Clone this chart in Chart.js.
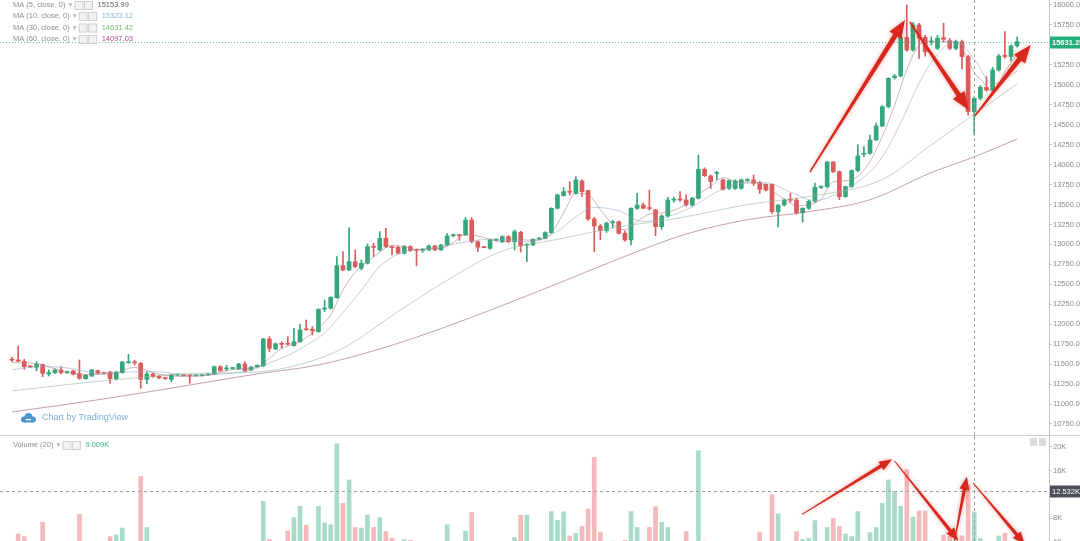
<!DOCTYPE html>
<html>
<head>
<meta charset="utf-8">
<script src="https://cdn.jsdelivr.net/npm/chart.js@4.4.0/dist/chart.umd.min.js"></script>
<style>
  html, body { margin: 0; padding: 0; background: #fff; overflow: hidden; }
  #wrap { position: relative; width: 1080px; height: 541px; }
  #price { position: absolute; left: 0; top: 0; }
  #vol { position: absolute; left: 0; top: 436px; }
</style>
</head>
<body>
<div id="wrap">
  <canvas id="price" width="1080" height="436"></canvas>
  <canvas id="vol" width="1080" height="105"></canvas>
</div>
<script>
// candles, one per session
const opens = [
  11555, 11552, 11535, 11470, 11460, 11493, 11376, 11393, 11426, 11390,
  11414, 11380, 11318, 11351, 11418, 11393, 11401, 11318, 11393, 11518,
  11520, 11510, 11309, 11376, 11351, 11330, 11309, 11362, 11358, 11358,
  11354, 11356, 11365, 11376, 11468, 11440, 11445, 11439, 11502, 11426,
  11468, 11477, 11815, 11690, 11756, 11752, 11731, 11781, 11940, 11936,
  11907, 12190, 12199, 12333, 12734, 12680, 12784, 12701, 12764, 12970,
  12931, 13077, 12970, 12964, 12889, 12972, 12930, 12925, 12931, 12981,
  12931, 12993, 13110, 13118, 13118, 13306, 13035, 12964, 12951, 13050,
  13035, 13098, 13035, 13152, 12990, 12993, 13068, 13077, 13148, 13453,
  13612, 13665, 13640, 13795, 13674, 13319, 13231, 13173, 13270, 13285,
  13140, 13056, 13453, 13494, 13460, 13432, 13223, 13357, 13555, 13560,
  13557, 13494, 13578, 13941, 13857, 13890, 13808, 13703, 13700, 13703,
  13800, 13808, 13774, 13753, 13753, 13411, 13494, 13560, 13557, 13398,
  13452, 13540, 13716, 13724, 14033, 13912, 13599, 13724, 13925, 14130,
  14142, 14309, 14484, 14726, 15090, 15111, 15595, 15436, 15750, 15595,
  15535, 15457, 15590, 15553, 15457, 15541, 15353, 14664, 14831, 14969,
  14935, 15186, 15370, 15353, 15487
];
const highs = [
  11585, 11727, 11560, 11480, 11531, 11500, 11426, 11440, 11468, 11415,
  11426, 11552, 11370, 11435, 11425, 11400, 11410, 11410, 11535, 11623,
  11550, 11520, 11405, 11385, 11355, 11335, 11375, 11375, 11365, 11365,
  11362, 11368, 11380, 11475, 11480, 11485, 11460, 11510, 11531, 11470,
  11490, 11825, 11844, 11765, 11781, 11844, 11948, 12003, 12053, 11969,
  12195, 12304, 12345, 12847, 12909, 13210, 12931, 12805, 13006, 13014,
  13160, 13202, 12980, 12975, 12985, 12985, 12945, 12950, 12995, 12990,
  13000, 13135, 13130, 13125, 13340, 13335, 13045, 12975, 13065, 13070,
  13110, 13110, 13180, 13165, 13010, 13070, 13085, 13160, 13460, 13630,
  13710, 13787, 13850, 13810, 13680, 13340, 13250, 13280, 13300, 13295,
  13170, 13460, 13640, 13520, 13680, 13440, 13370, 13590, 13590, 13661,
  13620, 13590, 14121, 13960, 13870, 13915, 13820, 13810, 13810, 13820,
  13825, 13870, 13790, 13760, 13760, 13500, 13570, 13640, 13580, 13460,
  13555, 13770, 13735, 14040, 14040, 13920, 13730, 13935, 14250, 14225,
  14370, 14520, 14740, 15090, 15130, 15600, 16000, 15780, 15770, 15620,
  15600, 15620, 15771, 15580, 15560, 15560, 15370, 14850, 14990, 15102,
  15220, 15380, 15666, 15500, 15600
];
const lows = [
  11531, 11530, 11435, 11455, 11418, 11343, 11351, 11385, 11376, 11385,
  11365, 11310, 11310, 11345, 11380, 11380, 11259, 11301, 11385, 11510,
  11490, 11197, 11251, 11335, 11318, 11305, 11280, 11355, 11350, 11259,
  11348, 11350, 11360, 11370, 11410, 11418, 11438, 11435, 11405, 11420,
  11460, 11470, 11656, 11680, 11698, 11740, 11725, 11775, 11925, 11865,
  11900, 12157, 12190, 12325, 12670, 12670, 12710, 12680, 12755, 12847,
  12920, 12960, 12868, 12880, 12880, 12910, 12734, 12900, 12920, 12925,
  12925, 12985, 13095, 13050, 13110, 13020, 12910, 12955, 12940, 13045,
  13025, 13020, 12930, 12905, 12784, 12985, 13060, 13070, 13140, 13445,
  13605, 13620, 13630, 13600, 13300, 12910, 13060, 13150, 13210, 13130,
  13040, 12993, 13440, 13445, 13430, 13110, 13190, 13340, 13530, 13540,
  13480, 13480, 13570, 13850, 13700, 13810, 13680, 13690, 13690, 13690,
  13790, 13740, 13640, 13670, 13390, 13215, 13480, 13530, 13380, 13280,
  13440, 13530, 13700, 13715, 13900, 13560, 13590, 13715, 13910, 14100,
  14130, 14300, 14475, 14710, 15070, 15100, 15420, 15420, 15332, 15360,
  15500, 15440, 15540, 15440, 15440, 15200, 14620, 14371, 14810, 14920,
  14920, 15170, 15330, 15300, 15470
];
const closes = [
  11550, 11539, 11468, 11466, 11502, 11385, 11393, 11426, 11393, 11405,
  11372, 11322, 11360, 11426, 11385, 11385, 11318, 11401, 11527, 11531,
  11515, 11309, 11376, 11343, 11326, 11320, 11368, 11366, 11354, 11352,
  11356, 11362, 11375, 11468, 11418, 11450, 11450, 11502, 11414, 11464,
  11485, 11815, 11698, 11756, 11748, 11748, 11781, 11928, 11930, 11919,
  12187, 12200, 12337, 12734, 12680, 12784, 12722, 12764, 12972, 12962,
  13077, 12972, 12960, 12889, 12972, 12922, 12925, 12935, 12981, 12931,
  12993, 13106, 13115, 13110, 13306, 13035, 12964, 12960, 13056, 13056,
  13098, 13035, 13160, 12981, 12993, 13064, 13077, 13148, 13453, 13620,
  13661, 13655, 13808, 13661, 13319, 13231, 13173, 13265, 13285, 13140,
  13056, 13453, 13494, 13453, 13450, 13223, 13357, 13557, 13560, 13557,
  13494, 13578, 13941, 13862, 13787, 13900, 13690, 13799, 13795, 13808,
  13805, 13766, 13690, 13682, 13411, 13494, 13557, 13555, 13398, 13452,
  13540, 13716, 13720, 14033, 13912, 13599, 13724, 13925, 14108, 14135,
  14309, 14484, 14726, 15081, 15110, 15595, 15436, 15750, 15583, 15416,
  15545, 15583, 15570, 15457, 15541, 15353, 14664, 14831, 14969, 14935,
  15186, 15361, 15355, 15487, 15541
];
const volumes = [
  3000, 5300, 4850, 3000, 3900, 7280, 3200, 3100, 3300, 3900,
  3200, 8610, 3000, 3600, 3200, 3000, 4850, 5130, 6310, 3900,
  3400, 15000, 6400, 3900, 3000, 2800, 3300, 2600, 2500, 3200,
  2400, 2500, 2700, 3500, 3100, 2800, 2600, 3300, 3600, 3200,
  2900, 10830, 4370, 3800, 3600, 5800, 8040, 9970, 6760, 3800,
  9970, 7160, 6870, 20540, 10490, 14430, 6400, 6300, 8500, 6400,
  8040, 5710, 4550, 3800, 4370, 4260, 3900, 3000, 3200, 2900,
  3100, 6870, 3500, 3500, 5800, 8920, 3800, 2800, 3300, 2700,
  3400, 3200, 4700, 8450, 8500, 3800, 3600, 3800, 9090, 7640,
  9050, 4960, 5420, 6590, 9490, 18230, 5590, 3600, 4100, 3900,
  4250, 9090, 6400, 3900, 6400, 9900, 7280, 6400, 3700, 3500,
  5710, 3900, 19370, 4100, 3400, 3000, 3500, 3100, 2900, 3200,
  2800, 3300, 5540, 3800, 11940, 8730, 3600, 3800, 5710, 4370,
  4550, 7570, 3800, 6400, 7920, 6590, 5300, 4850, 9090, 4100,
  5540, 6400, 10490, 14440, 12520, 9970, 16180, 8160, 9200, 9200,
  4100, 4000, 5130, 4900, 4800, 5000, 13600, 9009, 4550, 3800,
  3900, 4960, 5420, 3800, 3700
];

// moving averages, [candle index, value]
const ma5 = [
  [0, 11520], [4, 11505], [8, 11420], [12, 11370], [16, 11375], [20, 11458], [24, 11374],
  [28, 11347], [32, 11360], [36, 11432], [40, 11463], [42, 11575], [44, 11700], [46, 11747],
  [48, 11830], [50, 11951], [52, 12117], [54, 12428], [56, 12651], [58, 12784], [60, 12901],
  [62, 12990], [64, 12974], [66, 12934], [68, 12947], [70, 12953], [72, 13025], [74, 13126],
  [76, 13106], [78, 13064], [80, 13027], [82, 13081], [84, 13053], [86, 13055], [88, 13147],
  [90, 13392], [92, 13641], [94, 13623], [96, 13438], [98, 13255], [100, 13184], [102, 13286],
  [104, 13381], [106, 13395], [108, 13429], [110, 13505], [112, 13626], [114, 13732], [116, 13836],
  [118, 13794], [120, 13779], [122, 13773], [124, 13671], [126, 13567], [128, 13483], [130, 13500],
  [132, 13565], [134, 13784], [136, 13798], [138, 13854], [140, 14040], [142, 14352], [144, 14742],
  [146, 15190], [148, 15495], [150, 15546], [152, 15539], [154, 15539], [156, 15317], [157, 15154],
  [158, 15072], [160, 14917], [162, 15161], [164, 15386]
];
const ma10 = [
  [0, 11430], [5, 11470], [9, 11453], [14, 11387], [19, 11403], [24, 11403], [29, 11363],
  [34, 11374], [39, 11426], [42, 11516], [45, 11608], [48, 11737], [51, 11891], [54, 12146],
  [57, 12427], [60, 12724], [64, 12908], [69, 12956], [74, 13032], [79, 13070], [84, 13034],
  [89, 13163], [92, 13347], [95, 13464], [99, 13421], [103, 13287], [107, 13347], [111, 13472],
  [115, 13659], [119, 13765], [123, 13772], [127, 13656], [131, 13550], [135, 13648], [139, 13841],
  [142, 14096], [145, 14520], [148, 15021], [151, 15383], [154, 15548], [157, 15323], [160, 15009],
  [164, 15168]
];
const ma30 = [
  [0, 11164], [10, 11252], [20, 11327], [30, 11385], [40, 11401], [47, 11497], [54, 11699],
  [63, 12159], [71, 12551], [80, 12918], [89, 13063], [99, 13218], [109, 13333], [120, 13499],
  [131, 13612], [142, 13813], [150, 14248], [157, 14631], [164, 15012]
];
const ma60 = [
  [0, 10901], [15, 11064], [30, 11251], [40, 11377], [50, 11490], [60, 11690], [70, 11945],
  [80, 12235], [90, 12540], [100, 12850], [110, 13130], [120, 13310], [130, 13410], [140, 13560],
  [150, 13900], [157, 14097], [164, 14321]
];

const priceTicks = [10750, 11000, 11250, 11500, 11750, 12000, 12250, 12500, 12750, 13000, 13250,
  13500, 13750, 14000, 14250, 14500, 14750, 15000, 15250, 15500, 15750, 16000];
const volTicks = [4000, 8000, 12000, 16000, 20000];

const maLegend = [
  ['MA (5, close, 0)', '15153.99', '#5f5f5f'],
  ['MA (10, close, 0)', '15323.12', '#86b3d6'],
  ['MA (30, close, 0)', '14631.42', '#74b874'],
  ['MA (60, close, 0)', '14097.03', '#b2508e']
];
const lastPriceText = '15631.25';
const cursorIndex = 157;
const cursorVolume = 12532;
const cursorVolumeText = '12.532K';
const volumeLegendValue = '9.009K';

// hand drawn arrows: [index from, value from, index to, value to]
const priceArrows = [
  [130.2, 13908, 145.7, 15812],
  [146.5, 15787, 156.1, 14685],
  [157.1, 14610, 166.2, 15499]
];
const volArrows = [
  [128.9, 8610, 143.6, 17920],
  [144.0, 17640, 154.4, 4140],
  [153.8, 4260, 155.8, 14980],
  [156.8, 13960, 165.3, 3500]
];

const FONT = '"Liberation Sans", Arial, "DejaVu Sans", sans-serif';
const UP = '#34a87b', DOWN = '#dd5b5b';
const VOL_UP = '#a9dcc8', VOL_DOWN = '#f4b9ba';
const X_MIN = -1.96, X_MAX = 169.2;
const isUp = i => closes[i] >= opens[i];
const pts = arr => arr.map(([i, v]) => ({ x: i, y: v }));

function drawArrow(ctx, x1, y1, x2, y2, w0, w1, headLen, headW) {
  const dx = x2 - x1, dy = y2 - y1, len = Math.hypot(dx, dy);
  const ux = dx / len, uy = dy / len, nx = -uy, ny = ux;
  const bx = x2 - ux * headLen, by = y2 - uy * headLen;
  ctx.save();
  ctx.shadowColor = 'rgba(210,50,40,0.45)';
  ctx.shadowBlur = 4;
  ctx.fillStyle = '#d8271d';
  ctx.beginPath();
  ctx.moveTo(x1 + nx * w0 / 2, y1 + ny * w0 / 2);
  ctx.lineTo(bx + nx * w1 / 2, by + ny * w1 / 2);
  ctx.lineTo(bx + nx * headW / 2, by + ny * headW / 2);
  ctx.lineTo(x2, y2);
  ctx.lineTo(bx - nx * headW / 2, by - ny * headW / 2);
  ctx.lineTo(bx - nx * w1 / 2, by - ny * w1 / 2);
  ctx.lineTo(x1 - nx * w0 / 2, y1 - ny * w0 / 2);
  ctx.closePath();
  ctx.fill();
  ctx.restore();
}

function drawIcons(ctx, x, y) {
  ctx.save();
  ctx.strokeStyle = '#cfcfcf';
  ctx.fillStyle = '#f3f3f3';
  for (let k = 0; k < 2; k++) {
    ctx.fillRect(x + k * 9.5 + 0.5, y - 3.5, 8, 8);
    ctx.strokeRect(x + k * 9.5 + 0.5, y - 3.5, 8, 8);
  }
  ctx.restore();
  return x + 19;
}

function vDashed(ctx, x, top, bottom) {
  ctx.save();
  ctx.strokeStyle = '#a0a0a0';
  ctx.lineWidth = 1;
  ctx.setLineDash([3, 3]);
  ctx.beginPath();
  ctx.moveTo(Math.round(x) + 0.5, top);
  ctx.lineTo(Math.round(x) + 0.5, bottom);
  ctx.stroke();
  ctx.restore();
}

const priceOverlay = {
  id: 'priceOverlay',
  afterDatasetsDraw(chart) {
    const { ctx, scales: { x, y }, chartArea: a } = chart;
    // last price line
    const py = Math.round(y.getPixelForValue(closes[closes.length - 1])) + 0.5;
    ctx.save();
    ctx.strokeStyle = 'rgba(38,166,154,0.75)';
    ctx.setLineDash([1, 2]);
    ctx.beginPath();
    ctx.moveTo(0, py);
    ctx.lineTo(a.right, py);
    ctx.stroke();
    ctx.restore();
    ctx.fillStyle = '#1fae78';
    ctx.fillRect(a.right + 1, py - 6, 40, 12);
    ctx.fillStyle = '#fff';
    ctx.font = 'bold 7.5px ' + FONT;
    ctx.textBaseline = 'middle';
    ctx.textAlign = 'left';
    ctx.fillText(lastPriceText, a.right + 3, py + 0.5);

    vDashed(ctx, x.getPixelForValue(cursorIndex), 0, chart.height);

    for (const [i1, v1, i2, v2] of priceArrows) {
      drawArrow(ctx, x.getPixelForValue(i1), y.getPixelForValue(v1),
        x.getPixelForValue(i2), y.getPixelForValue(v2), 1.5, 5, 18, 14);
    }

    // pane separator
    ctx.fillStyle = '#cdcdcd';
    ctx.fillRect(0, chart.height - 1, chart.width, 1);

    // legend
    ctx.font = '7.5px ' + FONT;
    ctx.textBaseline = 'middle';
    const rows = [5, 16, 27.5, 39];
    maLegend.forEach(([label, val, col], k) => {
      const ry = rows[k];
      ctx.fillStyle = '#8e8e8e';
      ctx.fillText(label, 13, ry);
      let cx = 13 + ctx.measureText(label).width + 3;
      ctx.fillStyle = '#b5b5b5';
      ctx.fillText('\u25BE', cx, ry);
      cx = drawIcons(ctx, cx + 6, ry);
      ctx.fillStyle = col;
      ctx.fillText(val, cx + 4, ry);
    });

    // watermark
    ctx.fillStyle = '#4f95cc';
    ctx.beginPath();
    ctx.arc(24, 419.5, 3, 0, Math.PI * 2);
    ctx.arc(28.5, 417, 4, 0, Math.PI * 2);
    ctx.arc(33, 419.5, 3, 0, Math.PI * 2);
    ctx.fill();
    ctx.fillRect(24, 419, 9, 3.5);
    ctx.fillStyle = '#fff';
    ctx.fillRect(26, 419, 5, 1.2);
    ctx.fillStyle = '#7bb0da';
    ctx.font = '9px ' + FONT;
    ctx.fillText('Chart by TradingView', 42, 418);
  }
};

const volOverlay = {
  id: 'volOverlay',
  afterDatasetsDraw(chart) {
    const { ctx, scales: { x, y }, chartArea: a } = chart;
    const cx = x.getPixelForValue(cursorIndex);
    vDashed(ctx, cx, 0, chart.height);
    const hy = Math.round(y.getPixelForValue(cursorVolume)) + 0.5;
    ctx.save();
    ctx.strokeStyle = '#a0a0a0';
    ctx.setLineDash([3, 3]);
    ctx.beginPath();
    ctx.moveTo(0, hy);
    ctx.lineTo(a.right, hy);
    ctx.stroke();
    ctx.restore();

    for (const [i1, v1, i2, v2] of volArrows) {
      drawArrow(ctx, x.getPixelForValue(i1), y.getPixelForValue(v1),
        x.getPixelForValue(i2), y.getPixelForValue(v2), 1, 3.5, 13, 10);
    }
  },
  afterDraw(chart) {
    const { ctx, scales: { y }, chartArea: a } = chart;
    const hy = Math.round(y.getPixelForValue(cursorVolume)) + 0.5;
    ctx.fillStyle = '#4a4f58';
    ctx.fillRect(a.right + 1, hy - 6, 40, 12);
    ctx.fillStyle = '#fff';
    ctx.font = '7.5px ' + FONT;
    ctx.textBaseline = 'middle';
    ctx.textAlign = 'left';
    ctx.fillText(cursorVolumeText, a.right + 3, hy + 0.5);

    // legend
    ctx.fillStyle = '#8e8e8e';
    ctx.fillText('Volume (20)', 13, 9);
    let lx = 13 + ctx.measureText('Volume (20)').width + 3;
    ctx.fillStyle = '#b5b5b5';
    ctx.fillText('\u25BE', lx, 9);
    lx = drawIcons(ctx, lx + 6, 9);
    ctx.fillStyle = '#3db08a';
    ctx.fillText(volumeLegendValue, lx + 4, 9);

    // pane buttons
    ctx.fillStyle = '#dcdcdc';
    ctx.fillRect(1030, 2, 7, 8);
    ctx.fillRect(1039, 2, 7, 8);
  }
};

function axisY(min, max, ticks, fmt) {
  return {
    position: 'right', min, max,
    afterBuildTicks: s => { s.ticks = ticks.map(v => ({ value: v })); },
    afterFit: s => { s.width = 31; s.paddingTop = 0; s.paddingBottom = 0; },
    grid: { drawOnChartArea: false, drawTicks: true, tickLength: 3, color: '#c6c6c6' },
    border: { display: true, color: '#c6c6c6' },
    ticks: { padding: 1, color: '#8a8a8a', autoSkip: false, font: { family: FONT, size: 7.5 }, callback: fmt }
  };
}

const common = {
  responsive: false, animation: false, devicePixelRatio: 1,
  layout: { padding: 0 },
  plugins: { legend: { display: false }, tooltip: { enabled: false } }
};

function maSet(arr, color) {
  return {
    type: 'line', data: pts(arr), borderColor: color, borderWidth: 1,
    pointRadius: 0, cubicInterpolationMode: 'monotone', order: 0
  };
}

new Chart(document.getElementById('price'), {
  type: 'bar',
  data: {
    datasets: [
      maSet(ma5, 'rgba(170,120,130,0.55)'),
      maSet(ma10, 'rgba(140,170,200,0.55)'),
      maSet(ma30, 'rgba(150,185,150,0.6)'),
      maSet(ma60, 'rgba(160,95,130,0.6)'),
      {
        data: opens.map((o, i) => ({ x: i, y: [o, closes[i]] })),
        backgroundColor: c => isUp(c.dataIndex) ? UP : DOWN,
        barThickness: 4, minBarLength: 1, grouped: false, order: 1
      },
      {
        data: lows.map((l, i) => ({ x: i, y: [l, highs[i]] })),
        backgroundColor: c => isUp(c.dataIndex) ? UP : DOWN,
        barThickness: 1, grouped: false, order: 2
      }
    ]
  },
  options: {
    ...common,
    scales: {
      x: { type: 'linear', min: X_MIN, max: X_MAX, display: false, offset: false },
      y: axisY(10599.5, 16062.6, priceTicks, v => v.toFixed(2))
    }
  },
  plugins: [priceOverlay]
});

new Chart(document.getElementById('vol'), {
  type: 'bar',
  data: {
    datasets: [{
      data: volumes.map((v, i) => ({ x: i, y: v })),
      backgroundColor: c => isUp(c.dataIndex) ? VOL_UP : VOL_DOWN,
      barThickness: 4, grouped: false
    }]
  },
  options: {
    ...common,
    scales: {
      x: { type: 'linear', min: X_MIN, max: X_MAX, display: false, offset: false },
      y: axisY(4114, 21859, volTicks, v => (v / 1000) + 'K')
    }
  },
  plugins: [volOverlay]
});
</script>
</body>
</html>
